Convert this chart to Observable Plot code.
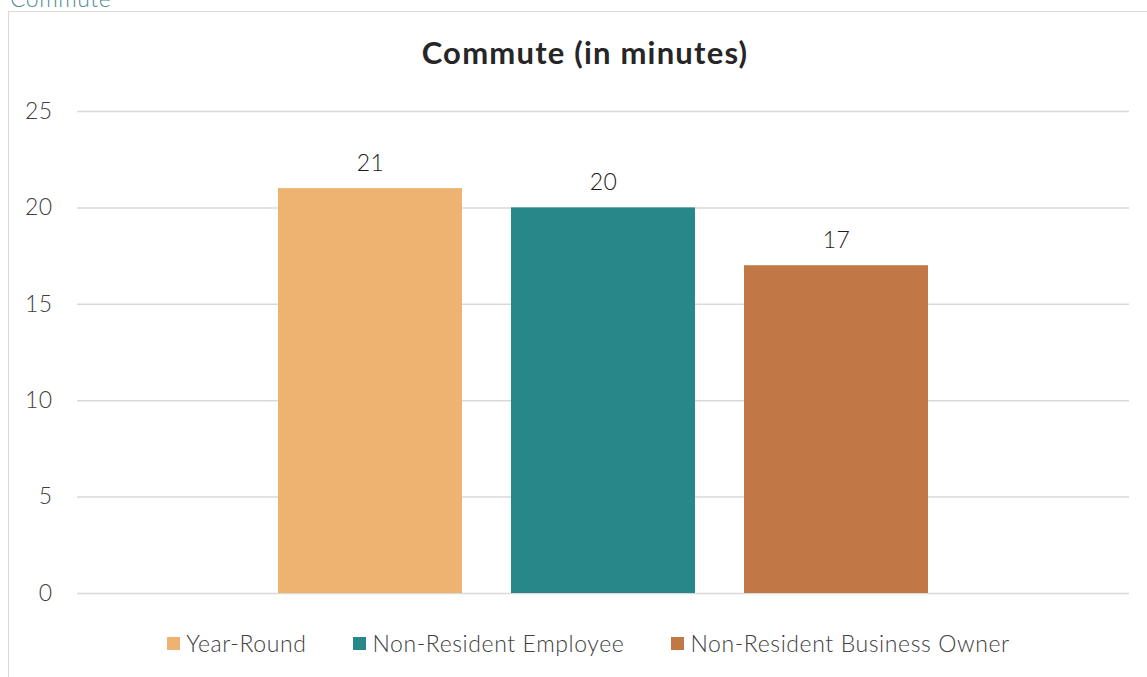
<!DOCTYPE html>
<html>
<head>
<meta charset="utf-8">
<script src="https://cdn.jsdelivr.net/npm/d3@7"></script>
<script src="https://cdn.jsdelivr.net/npm/@observablehq/plot@0.6"></script>
<style>
  html, body { margin: 0; padding: 0; background: #fff; overflow: hidden; }
  body { width: 1147px; height: 677px; position: relative; font-family: Lato, "Open Sans", sans-serif; }
  #frame { position: absolute; left: 8px; top: 11px; width: 1160px; height: 700px; border: 1.5px solid #d9d9d9; box-sizing: border-box; }
  #sheet { position: absolute; left: 10px; top: -16px; font-size: 23px; font-weight: 300; color: #4f8a96; letter-spacing: 0.5px; }
  #title { position: absolute; left: 0; width: 1170px; top: 33px; text-align: center; font-size: 31px; font-weight: bold; color: #262626; letter-spacing: 1.2px; }
  #chart { position: absolute; left: 0; top: 90px; }
  #legend { position: absolute; left: 0; width: 1177px; top: 629px; display: flex; justify-content: center; gap: 47px; font-size: 23px; font-weight: 300; color: #404040; letter-spacing: 0.6px; }
  .item { display: flex; align-items: center; gap: 6px; }
  .sw { width: 13px; height: 13px; display: inline-block; }
  #chart text { font-weight: 300; letter-spacing: 0.4px; }
</style>
</head>
<body>
<div id="frame"></div>
<div id="sheet">Commute</div>
<div id="title">Commute (in minutes)</div>
<div id="chart"></div>
<div id="legend"></div>
<script>
const categories = ["Year-Round", "Non-Resident Employee", "Non-Resident Business Owner"];
const values = [21, 20, 17];
const colors = ["#eeb371", "#288889", "#c17846"];
const yTicks = [0, 5, 10, 15, 20, 25];

const data = categories.map((c, i) => ({category: c, value: values[i]}));

const plot = Plot.plot({
  width: 1147,
  height: 520,
  marginLeft: 77,
  marginRight: 18,
  marginTop: 21,
  marginBottom: 17,
  style: {fontFamily: "Lato, 'Open Sans', sans-serif", fontSize: "23px", color: "#595959", background: "transparent"},
  x: {domain: categories, range: [277, 929], paddingInner: 0.21, paddingOuter: 0, axis: null},
  y: {domain: [0, 25], ticks: yTicks, label: null},
  color: {domain: categories, range: colors},
  marks: [
    Plot.gridY(yTicks, {stroke: "#d9d9d9", strokeOpacity: 1, strokeWidth: 1.5}),
    Plot.axisY(yTicks, {tickSize: 0, tickPadding: 25, fontSize: 23, fill: "#404040", label: null}),
    Plot.barY(data, {x: "category", y: "value", fill: "category"}),
    Plot.text(data, {x: "category", y: "value", text: d => String(d.value), dy: -25, fontSize: 23, fill: "#1a1a1a"})
  ]
});
document.getElementById("chart").appendChild(plot);

const legend = document.getElementById("legend");
categories.forEach((c, i) => {
  const item = document.createElement("div");
  item.className = "item";
  const sw = document.createElement("span");
  sw.className = "sw";
  sw.style.background = colors[i];
  const t = document.createElement("span");
  t.textContent = c;
  item.appendChild(sw);
  item.appendChild(t);
  legend.appendChild(item);
});
</script>
</body>
</html>
